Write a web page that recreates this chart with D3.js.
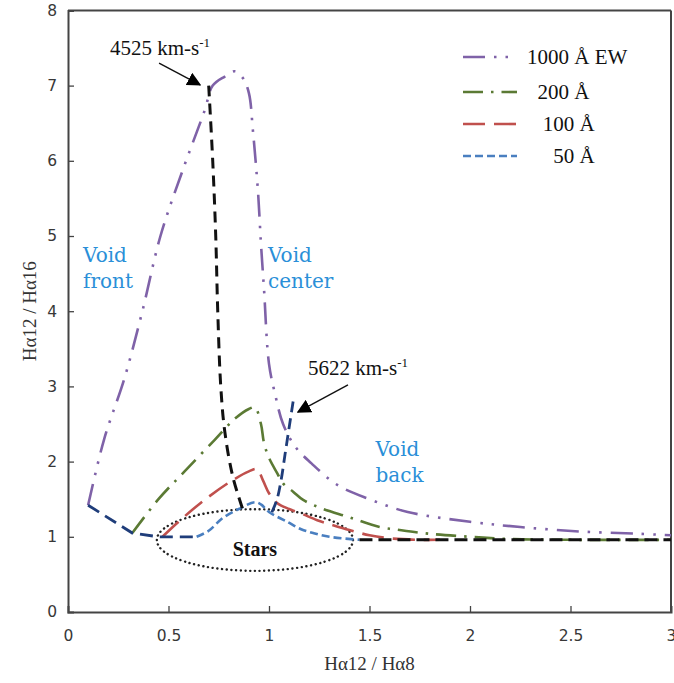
<!DOCTYPE html>
<html><head><meta charset="utf-8">
<script src="https://cdn.jsdelivr.net/npm/d3@7/dist/d3.min.js"></script>
<style>
html,body{margin:0;padding:0;background:#fff;}
svg{display:block;}
</style></head>
<body>
<svg id="chart" width="674" height="683"></svg>
<script>
// ---------- data ----------
const xTicks = [0, 0.5, 1, 1.5, 2, 2.5, 3];
const yTicks = [0, 1, 2, 3, 4, 5, 6, 7, 8];
const xTitle = "Hα12 / Hα8";
const yTitle = "Hα12 / Hα16";

const ew1000 = [[0.1,1.42],[0.18,2.3],[0.28,3.1],[0.37,4.0],[0.46,5.0],[0.57,5.87],[0.68,6.67],[0.72,7.0],[0.78,7.12],[0.83,7.19],[0.87,7.1],[0.9,6.9],[0.92,6.4],[0.945,5.6],[0.96,4.9],[0.975,4.3],[1.0,3.3],[1.03,2.9],[1.07,2.5],[1.13,2.2],[1.21,1.98],[1.34,1.69],[1.5,1.5],[1.69,1.33],[2.0,1.2],[2.25,1.13],[2.55,1.07],[2.84,1.04],[3.0,1.02]];
const ew200 = [[0.32,1.05],[0.45,1.5],[0.58,1.87],[0.73,2.29],[0.83,2.57],[0.9,2.7],[0.93,2.72],[0.96,2.5],[0.975,2.25],[1.0,2.05],[1.04,1.85],[1.07,1.71],[1.12,1.6],[1.17,1.49],[1.26,1.38],[1.4,1.26],[1.55,1.13],[1.65,1.09],[1.8,1.04],[2.0,1.0],[2.2,0.97],[2.5,0.96],[3.0,0.96]];
const ew100 = [[0.47,1.0],[0.55,1.2],[0.66,1.45],[0.8,1.72],[0.9,1.87],[0.94,1.9],[0.97,1.75],[1.0,1.58],[1.04,1.45],[1.1,1.37],[1.16,1.31],[1.24,1.22],[1.3,1.17],[1.4,1.09],[1.5,1.02],[1.6,0.98],[1.75,0.96],[1.85,0.96]];
const ew50 = [[0.64,1.0],[0.7,1.08],[0.77,1.25],[0.85,1.37],[0.93,1.46],[0.96,1.43],[1.0,1.33],[1.09,1.2],[1.16,1.1],[1.22,1.05],[1.3,1.0],[1.45,0.96]];

const frontLine = [[0.1,1.42],[0.32,1.05],[0.45,1.0],[0.64,1.0]];
const vel4525 = [[0.7,7.0],[0.72,6.0],[0.735,5.0],[0.745,4.0],[0.76,3.0],[0.78,2.4],[0.82,1.8],[0.87,1.36]];
const vel5622 = [[1.12,2.8],[1.1,2.45],[1.08,2.1],[1.06,1.75],[1.04,1.5],[1.01,1.3]];
const backLine = [[1.45,0.96],[3.0,0.96]];

const seriesNames = ["1000 Å EW", "200 Å", "100 Å", "50 Å"];
const legendLabels = ["1000 Å EW", "  200 Å", "   100 Å", "     50 Å"];
const seriesColors = ["#7f62a8", "#5b7a34", "#c0504d", "#4a7fc0"];
const seriesDash = ["22 9 2.5 9 2.5 9", "20 8 2.5 8", "22 9", "8 4"];

// annotations (data coordinates)
const starsEllipse = {cx: 0.93, cy: 0.957, rx: 0.488, ry: 0.41};
const regionLabels = [
  {lines: ["Void", "front"], x: 0.075, y: 4.66},
  {lines: ["Void", "center"], x: 0.995, y: 4.66},
  {lines: ["Void", "back"], x: 1.53, y: 2.07}
];
const velLabels = [
  {text: "4525 km-s", sup: "-1", x: 0.209, y: 7.41, from: [0.453, 7.30], to: [0.657, 7.01]},
  {text: "5622 km-s", sup: "-1", x: 1.194, y: 3.15, from: [1.393, 3.02], to: [1.144, 2.66]}
];

// ---------- chart ----------
const svg = d3.select("#chart");
const W = 674, H = 683;
const m = {left: 68, right: 3, top: 10.4, bottom: 71};
const x = d3.scaleLinear().domain([0, 3]).range([m.left, W - m.right]);
const y = d3.scaleLinear().domain([0, 8]).range([H - m.bottom, m.top]);

const defs = svg.append("defs");
defs.append("marker").attr("id", "arr").attr("viewBox", "0 0 10 10")
  .attr("refX", 9).attr("refY", 5).attr("markerWidth", 14).attr("markerHeight", 14)
  .attr("markerUnits", "userSpaceOnUse").attr("orient", "auto")
  .append("path").attr("d", "M0,0 L10,5 L0,10 z").attr("fill", "#000");

// axes
const axColor = "#444";
const xAxis = d3.axisBottom(x).tickValues(xTicks).tickSize(-6).tickPadding(18)
  .tickFormat(d => d3.format("")(d));
const yAxis = d3.axisLeft(y).tickValues(yTicks).tickSize(-6).tickPadding(11);

const gx = svg.append("g").attr("transform", `translate(0,${y(0)})`).call(xAxis);
const gy = svg.append("g").attr("transform", `translate(${x(0)},0)`).call(yAxis);
[gx, gy].forEach(g => {
  g.select(".domain").attr("stroke", axColor).attr("stroke-width", 2);
  g.selectAll(".tick line").attr("stroke", axColor).attr("stroke-width", 1.3);
  g.selectAll(".tick text").attr("fill", "#383838").attr("font-family", "DejaVu Sans")
    .attr("font-size", 15.5);
});
gx.selectAll(".tick").filter(d => d === 0 || d === 3).select("line").remove();
gy.selectAll(".tick").filter(d => d === 0 || d === 8).select("line").remove();
// frame top/right
svg.append("line").attr("x1", x(0)).attr("x2", x(3)).attr("y1", y(8)).attr("y2", y(8))
  .attr("stroke", axColor).attr("stroke-width", 2);
svg.append("line").attr("x1", x(3)).attr("x2", x(3)).attr("y1", y(8)).attr("y2", y(0))
  .attr("stroke", axColor).attr("stroke-width", 2);

// titles
svg.append("text").attr("x", (x(0) + x(3)) / 2).attr("y", 670).attr("text-anchor", "middle")
  .attr("font-family", "Liberation Serif").attr("font-size", 19).attr("fill", "#333").text(xTitle);
svg.append("text").attr("transform", `translate(36,${(y(0) + y(8)) / 2}) rotate(-90)`)
  .attr("text-anchor", "middle").attr("font-family", "Liberation Serif").attr("font-size", 19)
  .attr("fill", "#333").text(yTitle);

const lineStraight = d3.line().x(d => x(d[0])).y(d => y(d[1])).curve(d3.curveCatmullRom.alpha(0.5));

// stars ellipse
svg.append("ellipse").attr("cx", x(starsEllipse.cx)).attr("cy", y(starsEllipse.cy))
  .attr("rx", x(starsEllipse.rx) - x(0)).attr("ry", y(0) - y(starsEllipse.ry))
  .attr("fill", "none").attr("stroke", "#222").attr("stroke-width", 2.4)
  .attr("stroke-dasharray", "0.1 4.6").attr("stroke-linecap", "round");

const series = [ew1000, ew200, ew100, ew50];
series.forEach((s, i) => {
  svg.append("path").datum(s).attr("d", lineStraight).attr("fill", "none")
    .attr("stroke", seriesColors[i]).attr("stroke-width", 2.6)
    .attr("stroke-dasharray", seriesDash[i]);
});

// velocity / boundary lines
svg.append("path").datum(backLine).attr("d", lineStraight).attr("fill", "none")
  .attr("stroke", "#111").attr("stroke-width", 3).attr("stroke-dasharray", "13 6");
svg.append("path").datum(frontLine).attr("d", d3.line().x(d => x(d[0])).y(d => y(d[1])))
  .attr("fill", "none").attr("stroke", "#1f3d7a").attr("stroke-width", 2.8).attr("stroke-dasharray", "13 7");
svg.append("path").datum(vel4525).attr("d", lineStraight).attr("fill", "none")
  .attr("stroke", "#111").attr("stroke-width", 3).attr("stroke-dasharray", "11 7");
svg.append("path").datum(vel5622).attr("d", lineStraight).attr("fill", "none")
  .attr("stroke", "#1f3d7a").attr("stroke-width", 2.8).attr("stroke-dasharray", "11 6");

// region labels
regionLabels.forEach(r => {
  const t = svg.append("text").attr("font-family", "DejaVu Serif").attr("font-size", 20)
    .attr("fill", "#2a8fd8");
  r.lines.forEach((l, k) => t.append("tspan").attr("x", x(r.x)).attr("y", y(r.y) + k * 26).text(l));
});

// velocity labels + arrows
velLabels.forEach(v => {
  const t = svg.append("text").attr("x", x(v.x)).attr("y", y(v.y))
    .attr("font-family", "Liberation Serif").attr("font-size", 21).attr("fill", "#111");
  t.append("tspan").text(v.text);
  t.append("tspan").attr("font-size", 13).attr("dy", -8).text(v.sup);
  svg.append("line").attr("x1", x(v.from[0])).attr("y1", y(v.from[1]))
    .attr("x2", x(v.to[0])).attr("y2", y(v.to[1])).attr("stroke", "#111")
    .attr("stroke-width", 1.4).attr("marker-end", "url(#arr)");
});

// Stars label
svg.append("text").attr("x", x(starsEllipse.cx)).attr("y", y(starsEllipse.cy) + 16)
  .attr("text-anchor", "middle").attr("font-family", "Liberation Serif").attr("font-weight", "bold")
  .attr("font-size", 20).attr("fill", "#111").text("Stars");

// legend
const lg = svg.append("g");
const legY = [57, 92, 124, 156];
seriesNames.forEach((n, i) => {
  lg.append("line").attr("x1", 463).attr("x2", 517).attr("y1", legY[i]).attr("y2", legY[i])
    .attr("stroke", seriesColors[i]).attr("stroke-width", 2.6).attr("stroke-dasharray", seriesDash[i]);
  lg.append("text").attr("x", 527).attr("y", legY[i] + 7).attr("xml:space", "preserve")
    .style("white-space", "pre")
    .attr("font-family", "Liberation Serif").attr("font-size", 21).attr("fill", "#111").text(legendLabels[i]);
});
</script>
</body></html>
